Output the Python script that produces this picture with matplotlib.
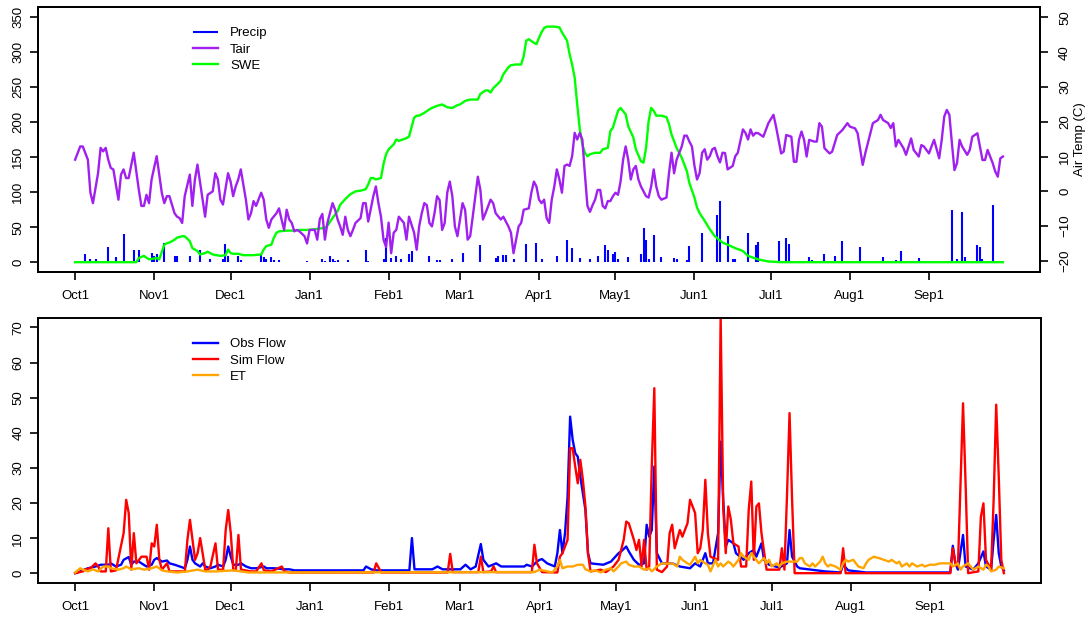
import matplotlib
matplotlib.use("Agg")
import matplotlib.pyplot as plt
import numpy as np

plt.rcParams['font.family'] = ['Liberation Sans', 'DejaVu Sans']

# ---------------- data (day index from Oct 1) ----------------
month_days = [0, 31, 61, 92, 123, 151, 182, 212, 243, 273, 304, 335]
month_labels = ["Oct1", "Nov1", "Dec1", "Jan1", "Feb1", "Mar1", "Apr1",
                "May1", "Jun1", "Jul1", "Aug1", "Sep1"]

precip = [(4, 11), (6, 4), (8, 5), (13, 21), (16, 7), (19, 40), (23, 18), (25, 18),
          (30, 13), (31, 9), (32, 12), (35, 28), (39, 9), (40, 9), (45, 9), (49, 18),
          (53, 4), (58, 4), (59, 26), (60, 9), (64, 9), (65, 3), (73, 11), (74, 7),
          (75, 4), (77, 7), (78, 3), (80, 3), (91, 2), (97, 4), (98, 2), (100, 9),
          (101, 4), (102, 2), (103, 3), (107, 3), (114, 18), (115, 2), (121, 4),
          (122, 35), (124, 6), (126, 9), (128, 4), (131, 11), (132, 16), (139, 9),
          (142, 3), (143, 3), (148, 5), (152, 13), (159, 24), (165, 6), (166, 9),
          (168, 10), (169, 10), (172, 4), (177, 26), (181, 28), (183, 5), (189, 9),
          (193, 31), (195, 20), (198, 6), (202, 4), (205, 9), (208, 24), (209, 17),
          (211, 11), (212, 15), (213, 5), (217, 7), (222, 11), (223, 49), (224, 31),
          (225, 4), (227, 39), (230, 7), (235, 6), (236, 4), (240, 3), (241, 23),
          (246, 41), (252, 68), (253, 87), (256, 38), (258, 4), (259, 4), (264, 41),
          (267, 24), (268, 29), (276, 30), (279, 35), (280, 26), (288, 7), (289, 3),
          (294, 12), (298, 9), (301, 30), (308, 22), (317, 7), (322, 3), (324, 16),
          (331, 6), (336, 2), (344, 74), (346, 5), (348, 72), (349, 7), (354, 24),
          (355, 21), (356, 4), (360, 82), (362, 2)]

swe = [(0, 0), (24, 0), (25, 6), (27, 9), (29, 4), (32, 6), (33, 4), (35, 25), (36, 27),
       (37, 28), (39, 32), (40, 35), (42, 37), (43, 37), (45, 30), (46, 20), (48, 16),
       (49, 11), (51, 13), (52, 15), (54, 11), (57, 9), (59, 10), (60, 18), (61, 13),
       (62, 12), (64, 12), (66, 10), (70, 10), (73, 11), (74, 18), (75, 23), (77, 25),
       (78, 35), (79, 42), (80, 44), (83, 45), (86, 45), (88, 46), (91, 46), (94, 47),
       (96, 48), (98, 49), (99, 52), (101, 63), (103, 73), (104, 82), (106, 90),
       (108, 97), (110, 101), (112, 102), (114, 104), (115, 111), (116, 120),
       (117, 120), (118, 118), (120, 120), (121, 140), (122, 154), (123, 161),
       (125, 168), (126, 175), (127, 173), (130, 177), (131, 179), (133, 206),
       (134, 209), (135, 209), (137, 213), (139, 218), (140, 220), (142, 223),
       (144, 225), (146, 221), (148, 220), (150, 224), (151, 225), (153, 230),
       (155, 232), (158, 232), (159, 240), (161, 245), (162, 245), (163, 242),
       (164, 248), (166, 255), (167, 259), (168, 268), (170, 278), (171, 281),
       (173, 282), (175, 282), (176, 294), (177, 316), (178, 318), (180, 313),
       (181, 311), (182, 320), (183, 328), (184, 334), (185, 336), (188, 336),
       (190, 335), (191, 328), (193, 316), (194, 297), (195, 282), (196, 263),
       (197, 225), (198, 190), (199, 168), (200, 156), (201, 151), (202, 154),
       (204, 156), (206, 156), (207, 161), (209, 163), (210, 187), (211, 192),
       (212, 204), (213, 216), (214, 220), (216, 211), (217, 194), (219, 178),
       (220, 161), (222, 144), (223, 142), (224, 163), (225, 201), (226, 220),
       (227, 216), (228, 209), (230, 209), (232, 207), (233, 197), (234, 182),
       (236, 163), (238, 149), (240, 130), (241, 113), (243, 92), (244, 78),
       (245, 70), (247, 59), (249, 47), (251, 37), (254, 28), (256, 25), (259, 20),
       (262, 16), (264, 9), (268, 4), (272, 1), (277, 0), (364, 0)]

tair = [(0, 9.1), (2, 12.9), (3, 12.9), (5, 9.1), (6, -0.4), (7, -3.4), (9, 5.2),
        (10, 12.5), (11, 11.5), (12, 12.5), (13, 9.1), (14, 6.7), (15, 6.3), (17, -2.4),
        (18, 4.8), (19, 6.3), (20, 3.8), (21, 3.8), (23, 11.1), (25, 0.4), (26, -4.2),
        (27, -4.2), (28, -1), (29, -3.4), (30, 3.4), (32, 10.1), (34, -0.4), (35, -3.4),
        (36, -1.4), (37, -1.4), (39, -6.3), (40, -7.3), (41, -7.7), (42, -9.1),
        (43, -1.4), (45, 4.8), (46, -4.2), (47, 3.4), (48, 7.7), (51, -7.3), (52, -1),
        (54, 0), (55, 5.2), (56, 3.4), (57, -2.4), (58, -3.8), (60, 5.2), (61, 2.8),
        (62, -1.4), (63, 1.4), (64, 3.4), (65, 6.3), (67, -2.4), (68, -8.1), (69, -6.3),
        (70, -2.8), (71, -4.2), (73, -0.4), (74, -2.4), (75, -8.1), (76, -10.5),
        (77, -8.1), (79, -6.3), (80, -4.9), (81, -8.1), (82, -11.1), (83, -5.3),
        (84, -8.1), (85, -9.1), (86, -11.5), (87, -11.1), (88, -11.5), (90, -12.9),
        (91, -15), (92, -11.1), (94, -11.1), (95, -13.9), (96, -8), (97, -6.5),
        (98, -13.9), (99, -9), (101, -3.4), (102, -5.3), (103, -8.1), (104, -10.1),
        (105, -12.5), (106, -7.3), (107, -11.1), (108, -12.9), (109, -11.1),
        (110, -9.1), (112, -7.7), (113, -3.4), (114, -3.4), (115, -8.7), (117, -1.4),
        (118, 1.4), (119, -3.4), (120, -7.3), (121, -13.9), (122, -16), (123, -9),
        (124, -17.8), (125, -11.9), (126, -11.1), (127, -7.3), (129, -9.1),
        (130, -13.9), (131, -7.3), (133, -11.9), (134, -16.8), (135, -10), (136, -6.3),
        (137, -3.4), (138, -4), (139, -9.1), (140, -10.1), (141, -6.3), (142, -1.4),
        (143, -2.5), (144, -11.1), (145, -9.1), (146, -0.4), (147, 2.8), (148, -1.4),
        (149, -10.1), (150, -12.9), (151, -8.1), (152, -3.4), (153, -5.3),
        (154, -13.9), (155, -12.9), (156, -7.3), (158, 4.2), (159, 0.4), (160, -8.1),
        (161, -6.3), (163, -2.4), (164, -3.4), (165, -6.3), (167, -8.1), (168, -7.3),
        (170, -10.1), (171, -11.9), (172, -17.8), (173, -13.9), (174, -10.1),
        (175, -9.1), (176, -5.3), (178, -4.9), (179, -0.4), (180, 2.8), (181, 1.4),
        (182, -2.4), (183, -3.4), (184, -2.4), (185, -7.7), (186, -9.1), (187, -2.4),
        (188, 1.4), (189, 6.3), (190, 3.4), (191, -0.4), (192, 7.3), (193, 7.7),
        (194, 7.3), (195, 10.1), (196, 16.8), (197, 14.9), (198, 16.8), (199, 14.9),
        (200, 5), (201, -4.2), (202, -5.9), (203, -4), (204, -2.4), (205, 0.4),
        (206, 0.4), (207, -4.2), (208, -4.9), (209, -2.8), (210, -2.8), (211, -1.4),
        (212, -0.4), (213, -1), (214, 2.8), (215, 9.1), (216, 12.9), (217, 9.1),
        (218, 3.4), (219, 6.3), (220, 7.3), (221, 3.4), (222, 1.4), (224, -1.4),
        (225, -1.8), (226, 1.4), (227, 6.3), (228, 1.4), (229, -1.4), (230, -2.4),
        (232, -1.8), (233, 5.2), (234, 11.1), (235, 5.2), (236, 9.1), (237, 11),
        (238, 12.9), (239, 16), (240, 16), (241, 14.3), (242, 12.9), (243, 7.3),
        (244, 3.4), (245, 5.2), (246, 11.1), (247, 12.1), (248, 9.1), (249, 10.1),
        (250, 12.1), (251, 12.5), (252, 10.1), (253, 8.3), (254, 11.1), (255, 11),
        (256, 6.3), (258, 7.3), (259, 10.1), (260, 11.1), (262, 17.8), (263, 16.8),
        (264, 14.9), (265, 17.8), (266, 16), (267, 16.8), (268, 16.7), (270, 15.7),
        (272, 19.6), (274, 22), (275, 18.6), (277, 10.9), (278, 11.4), (279, 16.2),
        (281, 15.7), (282, 8.5), (283, 8.5), (284, 14.8), (285, 17.2), (286, 14.8),
        (287, 10), (288, 14.8), (290, 14.3), (291, 14.3), (292, 19.6), (293, 18.6),
        (294, 12.4), (296, 10.9), (297, 11.4), (299, 16.2), (301, 17.6), (303, 19.6),
        (304, 18.6), (306, 18.1), (307, 16.7), (309, 7.6), (310, 10.9), (312, 16.7),
        (313, 19.6), (315, 20.5), (316, 22), (317, 20.5), (319, 19.6), (320, 18.2),
        (321, 19.6), (322, 12.9), (323, 14.8), (325, 12.4), (326, 10.5), (327, 12.9),
        (328, 15.2), (329, 11.9), (331, 10), (332, 13.3), (333, 12.9), (335, 10.9),
        (336, 12.9), (337, 14.8), (339, 9.5), (340, 14.8), (341, 21.5), (342, 23.4),
        (343, 22), (344, 13.8), (345, 6.1), (346, 8.1), (347, 14.8), (348, 12.9),
        (350, 10.5), (351, 11.9), (352, 15.7), (354, 16.7), (355, 12.9), (356, 9),
        (357, 9), (358, 11.9), (359, 10), (360, 8.1), (361, 5.7), (362, 4.2),
        (363, 9.5), (364, 10)]

obs_flow = [(0, 0), (2, 0.5), (5, 1.4), (8, 1.9), (10, 2.4), (13, 2.4), (14, 2.8),
            (16, 1.9), (18, 2.4), (19, 3.8), (21, 4.6), (22, 2.4), (23, 3.3), (25, 3.3),
            (26, 2.8), (28, 1.9), (30, 2.4), (31, 3.8), (32, 4.3), (33, 3.8), (34, 3.3),
            (36, 3.6), (37, 2.8), (39, 2.4), (41, 1.9), (43, 1.4), (44, 3.8), (45, 7.6),
            (46, 3.8), (47, 2.8), (49, 1.9), (50, 2.8), (51, 1.9), (53, 1.4), (55, 1.9),
            (56, 2.4), (58, 1.9), (59, 3.8), (60, 7.6), (61, 4.7), (62, 2.4), (64, 2.4),
            (65, 2.8), (67, 1.9), (69, 1.4), (71, 1.4), (74, 1.9), (75, 1.4), (78, 1.4),
            (82, 1.1), (84, 1.1), (86, 0.8), (113, 0.8), (114, 1.9), (116, 1.1),
            (118, 0.8), (131, 0.8), (132, 10), (133, 1.1), (140, 1.1), (142, 1.9),
            (144, 1.1), (151, 1.1), (153, 2.4), (155, 1.1), (157, 1.9), (159, 8.3),
            (160, 3.8), (162, 1.9), (165, 2.8), (167, 1.9), (176, 1.9), (177, 2.4),
            (179, 1.9), (181, 3.3), (182, 3.8), (183, 4), (185, 2.8), (188, 1.9),
            (189, 5.7), (190, 12.3), (191, 5.7), (192, 11.4), (193, 21.8), (194, 44.6),
            (195, 38), (196, 34.2), (197, 33.2), (198, 27.5), (200, 18), (201, 5.7),
            (202, 2.8), (207, 2.4), (210, 3.3), (213, 5.7), (214, 6.2), (216, 7.6),
            (217, 6.2), (219, 3.8), (221, 2.4), (223, 2.8), (224, 13.8), (225, 10.4),
            (226, 12.3), (227, 30.4), (228, 5.7), (230, 2.8), (234, 2.8), (237, 1.9),
            (241, 1.4), (243, 2.8), (245, 1.9), (247, 5.7), (248, 2.8), (250, 2.8),
            (252, 11.4), (253, 37.5), (254, 20.9), (255, 7.6), (256, 9.5), (258, 8.5),
            (259, 5.7), (262, 3.8), (264, 5.7), (266, 6.6), (267, 4.7), (269, 8.5),
            (270, 3.8), (272, 2.4), (276, 1.6), (279, 2.8), (280, 12.3), (281, 4.7),
            (283, 1.9), (284, 1.4), (294, 0.5), (300, 0.2), (301, 2.4), (303, 0.8),
            (310, 0.2), (343, 0.2), (344, 7.8), (345, 2.8), (346, 1), (348, 10.9),
            (349, 1.9), (352, 1), (354, 2.8), (356, 6.2), (357, 1.9), (359, 1),
            (360, 9.5), (361, 16.6), (362, 5.7), (363, 1.9), (364, 0.8)]

sim_flow = [(0, 0), (3, 0.5), (4, 1.1), (6, 1.4), (8, 2.8), (9, 1.9), (10, 0.5), (12, 0.5),
            (13, 12.8), (14, 0.5), (16, 0.8), (19, 11.4), (20, 20.9), (21, 17.1), (22, 1),
            (23, 11.4), (24, 2.8), (26, 4.7), (28, 4.7), (29, 1), (30, 8.5), (31, 7.6),
            (32, 13.8), (33, 3.8), (34, 1), (36, 2.8), (37, 0.5), (43, 0.5), (44, 9.5),
            (45, 15.2), (47, 3.8), (48, 5.7), (49, 10), (51, 1), (52, 1), (53, 1.9),
            (55, 8.5), (56, 1), (58, 1), (59, 12.3), (60, 18), (61, 11.4), (62, 0.8),
            (63, 1), (64, 10.9), (65, 1), (69, 0.5), (71, 0.5), (73, 2.8), (74, 0.8),
            (77, 0.5), (81, 1.9), (82, 0.5), (84, 0.2), (117, 0.2), (118, 2.8),
            (120, 0.2), (146, 0.2), (147, 5.5), (148, 0.3), (158, 0.3), (159, 4.7),
            (160, 0.3), (163, 0.5), (164, 1.9), (165, 0.3), (179, 0.3), (180, 8.1),
            (181, 2.8), (183, 0.3), (189, 0.2), (190, 4.7), (191, 5.7), (193, 9.5),
            (194, 35.6), (195, 35.6), (196, 30.4), (197, 25.6), (198, 32.3), (199, 26.6),
            (200, 19), (201, 5.7), (202, 0.5), (206, 1), (208, 0.3), (211, 1.9),
            (213, 3.8), (215, 9.5), (216, 14.7), (217, 14.2), (219, 9.5), (220, 6.6),
            (221, 9.5), (222, 1.9), (223, 9.5), (224, 1), (225, 1.9), (226, 30.4),
            (227, 52.7), (228, 1), (230, 0.3), (232, 1.9), (233, 11.4), (234, 13.8),
            (235, 7.1), (237, 12.3), (238, 10.4), (239, 12.3), (240, 14.2), (241, 20.9),
            (243, 17.1), (244, 5.7), (245, 7.1), (246, 12.3), (247, 26.6), (248, 11.4),
            (249, 4.7), (252, 3.8), (253, 73), (254, 19), (255, 5.7), (256, 19),
            (257, 15.2), (258, 8.5), (260, 7.6), (261, 1.9), (263, 1.9), (264, 18),
            (265, 26.1), (266, 3.8), (267, 19), (268, 19.9), (269, 11.4), (271, 1),
            (276, 1), (277, 7.1), (278, 1), (279, 22), (280, 45.6), (281, 20.9),
            (282, 0), (300, 0), (301, 7.1), (302, 0), (343, 0), (344, 7.1), (345, 2.8),
            (346, 1.9), (347, 25.6), (348, 48.4), (349, 25.6), (350, 0), (354, 0.5),
            (355, 16.1), (356, 19.9), (357, 3.8), (359, 1), (360, 20.9), (361, 48),
            (362, 27.5), (363, 3.8), (364, 0)]

et = [(0, 0.2), (2, 1.4), (3, 1), (5, 0.5), (7, 1.1), (9, 0.5), (11, 1.9), (13, 1.9),
      (14, 1.4), (17, 1), (19, 1.4), (20, 1.9), (22, 1.1), (25, 1.4), (27, 1), (30, 1.4),
      (32, 1.9), (34, 0.8), (36, 0.5), (40, 0.2), (44, 0.5), (48, 1), (51, 0.5),
      (55, 0.5), (62, 0.8), (68, 0.2), (180, 0.3), (182, 1), (187, 0.2), (189, 1.9),
      (190, 3.8), (191, 1.4), (193, 1.9), (195, 1.9), (197, 2.4), (199, 2.4), (200, 1.1),
      (202, 0.5), (204, 0.8), (206, 0.2), (208, 1), (210, 1.4), (211, 0.5), (213, 1.9),
      (214, 2.8), (216, 3.3), (217, 2.4), (219, 1.9), (221, 1.9), (223, 1), (225, 1.4),
      (226, 0.5), (228, 1.9), (230, 2.8), (232, 2.7), (234, 2.8), (236, 1.9), (237, 4.7),
      (238, 3.8), (240, 2.8), (241, 2.4), (243, 4.7), (244, 2.8), (245, 3.8), (247, 2.8),
      (248, 2.4), (249, 0.5), (251, 3.8), (252, 1.9), (253, 2.8), (254, 1.9), (256, 3.3),
      (257, 2.8), (258, 1.9), (260, 3.8), (261, 5.7), (262, 4.7), (264, 3.8), (265, 5.7),
      (266, 4.7), (268, 2.8), (270, 4.3), (271, 2.8), (272, 3.8), (273, 1.9), (275, 2.8),
      (276, 1.9), (277, 2.8), (279, 3.3), (281, 3.3), (283, 3.3), (284, 4.3), (285, 4.3),
      (286, 2.8), (288, 1.9), (289, 2.8), (290, 1.9), (292, 3.3), (293, 4.7), (294, 2.8),
      (295, 1.9), (296, 2.4), (298, 1.9), (300, 1), (301, 2.8), (302, 3.8), (303, 3.3),
      (305, 3.8), (306, 2.8), (307, 1.9), (309, 1.4), (310, 2.8), (311, 3.8), (313, 4.7),
      (315, 4.3), (317, 3.8), (319, 3.3), (320, 3.8), (322, 2.8), (323, 3.3), (324, 1.9),
      (326, 2.8), (327, 1.9), (328, 2.8), (330, 1.9), (332, 2.4), (333, 1.9), (335, 2.4),
      (337, 2.4), (339, 2.8), (341, 2.8), (343, 2.8), (344, 1.9), (346, 2.8), (347, 1),
      (348, 1.9), (350, 2.8), (351, 1.9), (352, 1), (354, 1.9), (356, 1), (357, 2.4),
      (358, 1.9), (359, 0.5), (361, 1), (362, 1.9), (364, 1.4)]


def split(pairs):
    d, v = zip(*pairs)
    return np.array(d, float), np.array(v, float)


# ---------------- styling ----------------
FS = 9.5
C_BLUE, C_PURPLE, C_GREEN = "#0000FF", "#A020F0", "#00FF00"
C_RED, C_ORANGE = "#FF0000", "#FFA500"
LW = 1.7
W, H = 1089, 618
XLIM = (-14.56, 378.56)

fig = plt.figure(figsize=(W / 100, H / 100), dpi=100)


def px_axes(left, top, right, bottom):
    return fig.add_axes([left / W, 1 - bottom / H, (right - left) / W, (bottom - top) / H])


def style_axis(ax):
    for s in ax.spines.values():
        s.set_linewidth(1.4)
    ax.tick_params(axis='both', length=5.8, width=1.2, labelsize=FS)
    ax.tick_params(axis='x', pad=7)
    ax.set_xlim(*XLIM)
    ax.set_xticks(month_days)
    ax.set_xticklabels(month_labels)


LEG_KW = dict(loc='upper left', bbox_transform=fig.transFigure, frameon=False,
              fontsize=FS, borderpad=0, borderaxespad=0, handlelength=1.9,
              handletextpad=0.9, labelspacing=0.31)

# ---------------- top panel ----------------
ax1 = px_axes(38, 7, 1040, 272)
style_axis(ax1)
pd_, pv_ = split(precip)
h_p = ax1.vlines(pd_, 0, pv_, colors=C_BLUE, lw=1.5, label="Precip")
sd_, sv_ = split(swe)
h_s, = ax1.plot(sd_, sv_, color=C_GREEN, lw=LW, label="SWE")
ax1.set_ylim(-14, 364)
ax1.set_yticks(np.arange(0, 351, 50))
ax1.tick_params(axis='y', pad=4)
for t in ax1.get_yticklabels():
    t.set_rotation(90)
    t.set_va('center')

ax1r = ax1.twinx()
for s in ax1r.spines.values():
    s.set_linewidth(1.4)
td_, tv_ = split(tair)
h_t, = ax1r.plot(td_, tv_, color=C_PURPLE, lw=LW, label="Tair")
ax1r.set_ylim(-23.2, 53)
ax1r.set_yticks(np.arange(-20, 51, 10))
ax1r.tick_params(axis='y', length=5.8, width=1.2, labelsize=FS, pad=8)
for t in ax1r.get_yticklabels():
    t.set_rotation(90)
    t.set_va('center')
ax1r.set_ylabel("Air Temp (C)", fontsize=FS, labelpad=2)
ax1r.set_xlim(*XLIM)

ax1r.legend([h_p, h_t, h_s], ["Precip", "Tair", "SWE"],
            bbox_to_anchor=(193 / W, 1 - 27 / H), **LEG_KW)

# ---------------- bottom panel ----------------
ax2 = px_axes(38, 318, 1041, 583)
style_axis(ax2)
od_, ov_ = split(obs_flow)
h_o, = ax2.plot(od_, ov_, color=C_BLUE, lw=LW, label="Obs Flow")
md_, mv_ = split(sim_flow)
h_m, = ax2.plot(md_, mv_, color=C_RED, lw=LW, label="Sim Flow")
ed_, ev_ = split(et)
h_e, = ax2.plot(ed_, ev_, color=C_ORANGE, lw=LW, label="ET")
ax2.set_ylim(-2.8, 72.7)
ax2.set_yticks(np.arange(0, 71, 10))
ax2.tick_params(axis='y', pad=4)
for t in ax2.get_yticklabels():
    t.set_rotation(90)
    t.set_va('center')

ax2.legend([h_o, h_m, h_e], ["Obs Flow", "Sim Flow", "ET"],
           bbox_to_anchor=(193 / W, 1 - 338 / H), **LEG_KW)

fig.savefig("out.png", dpi=100)
